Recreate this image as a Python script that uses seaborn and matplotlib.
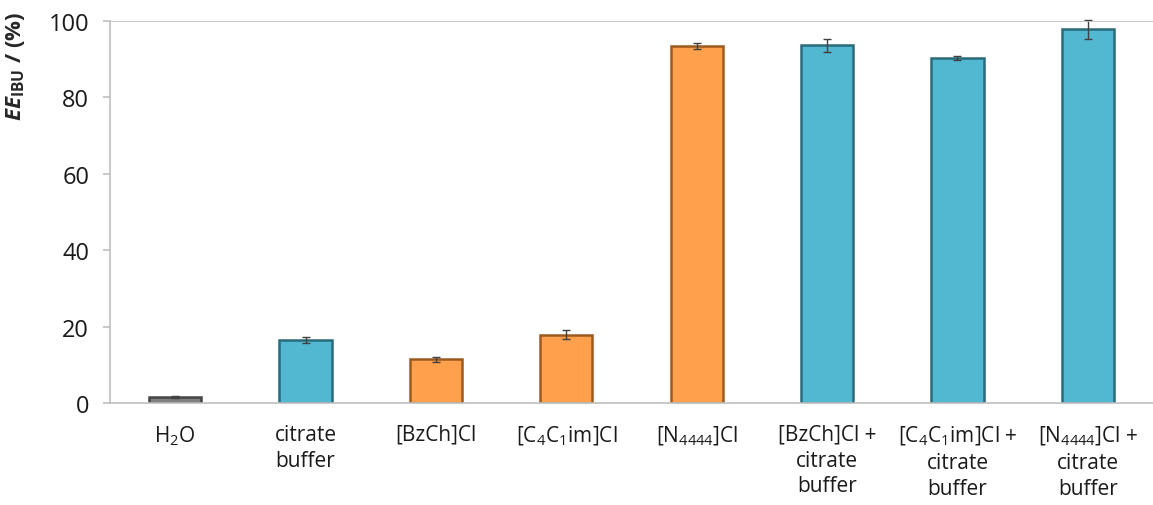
import numpy as np
import pandas as pd
import matplotlib
matplotlib.use('Agg')
import matplotlib.pyplot as plt
import seaborn as sns

labels = ['H$_2$O', 'citrate\nbuffer', '[BzCh]Cl', '[C$_4$C$_1$im]Cl', '[N$_{4444}$]Cl',
          '[BzCh]Cl +\ncitrate\nbuffer', '[C$_4$C$_1$im]Cl +\ncitrate\nbuffer',
          '[N$_{4444}$]Cl +\ncitrate\nbuffer']
ee = [1.6, 16.5, 11.4, 17.9, 93.5, 93.7, 90.3, 97.8]
err = [0.2, 0.7, 0.6, 1.2, 0.8, 1.7, 0.5, 2.4]
colors = ['#7f7f7f', '#52b8d1', '#ffa04c', '#ffa04c', '#ffa04c', '#52b8d1', '#52b8d1', '#52b8d1']
edges = ['#454545', '#2a6b7b', '#9c5a1f', '#9c5a1f', '#9c5a1f', '#2a6b7b', '#2a6b7b', '#2a6b7b']

sns.set_style('white')
plt.rcParams['font.family'] = ['Open Sans', 'DejaVu Sans']
plt.rcParams['mathtext.fontset'] = 'custom'
plt.rcParams['mathtext.rm'] = 'Open Sans'
plt.rcParams['mathtext.it'] = 'Open Sans:italic'
plt.rcParams['mathtext.bf'] = 'Open Sans:bold'
plt.rcParams['mathtext.bfit'] = 'Open Sans:italic:bold'

df = pd.DataFrame({'label': labels, 'ee': ee})

fig = plt.figure(figsize=(11.53, 5.06), dpi=100)
ax = fig.add_axes([110 / 1153, 102 / 506, 1 - 110 / 1153, 382 / 506])

sns.barplot(data=df, x='label', y='ee', hue='label', palette=colors, legend=False,
            width=0.4, saturation=1, ax=ax, errorbar=None)
for patch, ec in zip(ax.patches, edges):
    patch.set_edgecolor(ec)
    patch.set_linewidth(1.8)

ax.errorbar(np.arange(len(ee)), ee, yerr=err, fmt='none', ecolor='#404040',
            elinewidth=1, capsize=3, capthick=1, clip_on=False)

ax.set_ylim(0, 100)
ax.set_xlim(-0.5, 7.4)
ax.set_yticks([0, 20, 40, 60, 80, 100])
ax.axhline(100, color='#bfbfbf', lw=1.2)

for s in ['top', 'right']:
    ax.spines[s].set_visible(False)
for s in ['left', 'bottom']:
    ax.spines[s].set_color('#bfbfbf')
    ax.spines[s].set_linewidth(1.2)

ax.set_xticks(np.arange(len(ee)))
ax.set_xticklabels(labels, fontsize=15, color='#1a1a1a', linespacing=1.3)
ax.tick_params(axis='x', length=0, pad=15)
ax.set_xticks(np.arange(len(ee) + 1) - 0.5, minor=True)
ax.tick_params(axis='x', which='minor', length=8, color='#bfbfbf', width=1.2)
ax.tick_params(axis='y', length=5, color='#bfbfbf', width=1.2, labelsize=17,
               labelcolor='#1a1a1a', pad=10, left=True)

ax.set_xlabel('')
ax.set_ylabel(r'$\mathbfit{EE}_{\mathbf{IBU}}$ / (%)', fontsize=16, fontweight='bold')
ax.yaxis.set_label_coords(-0.08, 0.885)

fig.savefig('out.png', dpi=100)
